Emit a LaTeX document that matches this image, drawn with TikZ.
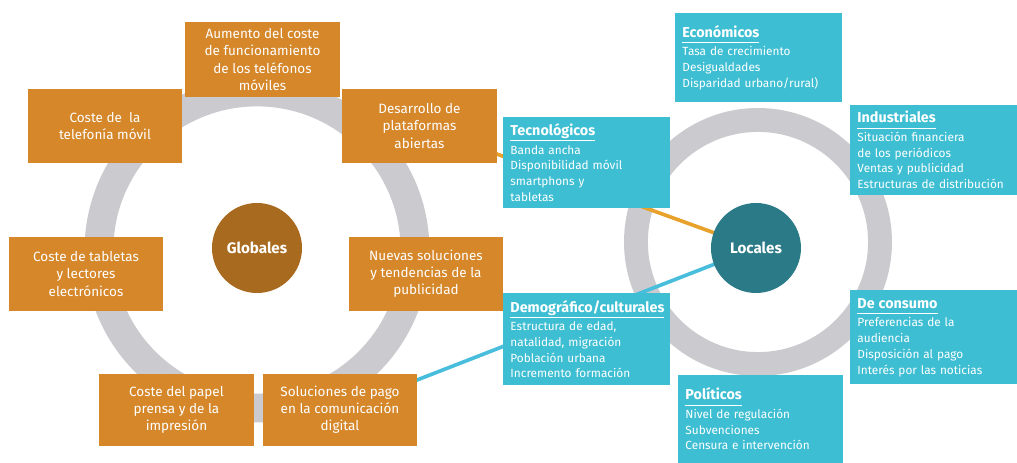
\documentclass[tikz,border=0pt]{standalone}
\usepackage{fontspec}
\setmainfont{Fira Sans}
\definecolor{obox}{RGB}{213,135,42}
\definecolor{ocirc}{RGB}{168,106,30}
\definecolor{cbox}{RGB}{62,190,210}
\definecolor{ccirc}{RGB}{42,122,136}
\definecolor{ring}{RGB}{203,203,207}
\definecolor{oline}{RGB}{232,162,44}
\definecolor{bline}{RGB}{72,190,220}
\pgfdeclarelayer{ringlayer}
\pgfdeclarelayer{linklayer}
\pgfsetlayers{ringlayer,linklayer,main}
\newcommand\hdr[1]{{\fontsize{10.2}{12}\selectfont\underline{\textbf{#1}\vphantom{gj}}}\\[2pt]}
\tikzset{
  orangebox/.style={fill=obox, text=white, minimum width=3.85cm, minimum height=1.85cm, align=center, inner sep=0pt, font=\fontsize{9.6}{12.2}\selectfont},
  cyanbox/.style={fill=cbox, text=white, minimum width=4.175cm, text width=3.8cm, inner xsep=0.1875cm, inner ysep=0pt, align=left, font=\fontsize{8.4}{11.2}\selectfont},
  hub/.style={circle, minimum size=2.25cm, inner sep=0pt, text=white, font=\bfseries\fontsize{10.8}{12}\selectfont},
  link/.style={line width=2.6pt}
}
\begin{document}
\begin{tikzpicture}[x=0.025cm,y=-0.025cm]
\begin{pgfonlayer}{ringlayer}
\useasboundingbox[fill=white] (0,0) rectangle (1017,463);
\draw[draw=ring, line width=20.5pt] (257,250) circle (3.95cm);
\draw[draw=ring, line width=17pt] (758,242) circle (3.05cm);
\end{pgfonlayer}
% hubs
\node[hub, fill=ocirc] (glob) at (257,248) {Globales};
\node[hub, fill=ccirc] (loc) at (756,248) {Locales};
% orange boxes
\node[orangebox, minimum width=3.875cm, minimum height=1.875cm] (aum) at (262.5,59.5) {Aumento del coste\\de funcionamiento\\de los teléfonos\\móviles};
\node[orangebox] (tel) at (105,126) {Coste de\ \ la\\telefonía móvil};
\node[orangebox] (des) at (419.5,126) {Desarrollo de\\plataformas\\abiertas};
\node[orangebox] (tab) at (86,274) {Coste de tabletas\\y lectores\\electrónicos};
\node[orangebox] (nue) at (426,274) {Nuevas soluciones\\y tendencias de la\\publicidad};
\node[orangebox, minimum height=1.8cm] (pap) at (176.5,410) {Coste del papel\\prensa y de la\\impresión};
\node[orangebox, minimum height=1.8cm] (pag) at (340,410) {Soluciones de pago\\en la comunicación\\digital};
% cyan boxes
\node[cyanbox, minimum height=2.225cm] (eco) at (758.5,57.5) {\hdr{Económicos}Tasa de crecimiento\\Desigualdades\\Disparidad urbano/rural)};
\node[cyanbox, minimum height=2.275cm] (tec) at (586.5,162.5) {\hdr{Tecnológicos}Banda ancha\\Disponibilidad móvil\\smartphons y\\tabletas};
\node[cyanbox, minimum height=2.25cm] (ind) at (933.5,150) {\hdr{Industriales}Situación financiera\\de los periódicos\\Ventas y publicidad\\Estructuras de distribución};
\node[cyanbox, minimum height=2.3cm] (dem) at (586.5,339) {\hdr{Demográfico/culturales}Estructura de edad,\\natalidad, migración\\Población urbana\\Incremento formación};
\node[cyanbox, minimum height=2.35cm] (con) at (933.5,337) {\hdr{De consumo}Preferencias de la\\audiencia\\Disposición al pago\\Interés por las noticias};
\node[cyanbox, minimum width=4.125cm, text width=3.75cm, minimum height=2.2cm] (pol) at (760.5,419) {\hdr{Políticos}Nivel de regulación\\Subvenciones\\Censura e intervención};
% connectors, behind the boxes
\begin{pgfonlayer}{linklayer}
\draw[link, draw=oline] (des.center) -- (loc.center);
\draw[link, draw=bline] (pag.center) -- (loc.center);
\end{pgfonlayer}
\end{tikzpicture}
\end{document}
